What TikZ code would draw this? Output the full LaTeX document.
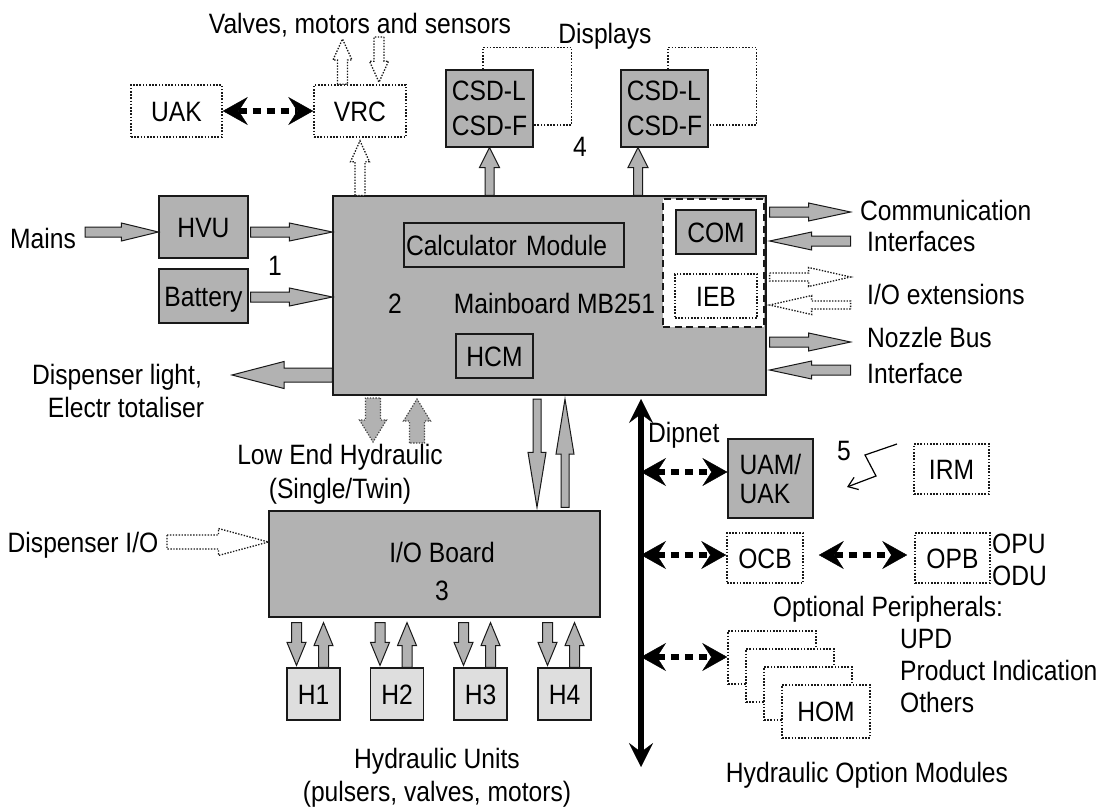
\documentclass[tikz,border=0pt]{standalone}
\usepackage{fontspec}
\setmainfont{Liberation Sans}[FakeStretch=0.88]
\usetikzlibrary{arrows.meta,calc}

\definecolor{boxgray}{RGB}{178,178,178}
\definecolor{hgray}{RGB}{222,222,222}
\definecolor{edge}{RGB}{25,25,25}

% Block arrow from #2 to #3: shaft half width #4, head half width #5, head length #6
\newcommand\fatarrow[6][]{%
  \coordinate (fahead) at ($(#3)!#6!(#2)$);
  \path[fatarrow,#1] ($(#2)!#4!90:(#3)$) -- ($(fahead)!#4!90:(#3)$)
    -- ($(fahead)!#5!90:(#3)$) -- (#3) -- ($(fahead)!#5!-90:(#3)$)
    -- ($(fahead)!#4!-90:(#3)$) -- ($(#2)!#4!-90:(#3)$) -- cycle;}

\begin{document}
\begin{tikzpicture}[x=1pt,y=1pt,
  every node/.style={font=\fontsize{28pt}{33pt}\selectfont, inner sep=0pt},
  solidbox/.style={draw=edge, line width=1.2pt, fill=boxgray, text height=20pt, text depth=0pt},
  lightbox/.style={solidbox, fill=hgray},
  dotbox/.style={draw=edge, line width=1.6pt, dash pattern=on 1.6pt off 1.6pt, fill=white, text height=20pt, text depth=0pt},
  framebox/.style={draw=edge, line width=1.2pt, text height=20pt, text depth=0pt},
  lbl/.style={anchor=base},
  lbll/.style={anchor=base west},
  fatarrow/.style={draw=edge, line width=1pt, fill=boxgray, line join=miter},
  hollow/.style={fill=white, line width=1.3pt, dash pattern=on 1.4pt off 1.5pt},
  ghost/.style={draw=gray!55!black, line width=1.2pt, dash pattern=on 1.3pt off 1.5pt},
  busarrow/.style={line width=6pt, dash pattern=on 8pt off 6pt,
    >={Stealth[length=25pt,width=28pt,inset=9pt,line width=0.4pt]}, <->},
  dotline/.style={draw=edge, line width=1.6pt, dash pattern=on 1.6pt off 1.6pt},
]
\fill[white] (0,0) rectangle (1114,-809);
\useasboundingbox (0,0) rectangle (1114,-809);

% ---------- mainboard ----------
\node[solidbox, minimum width=433pt, minimum height=199pt] (mb) at (549.5,-295.5) {};
\node[framebox, minimum width=220pt, minimum height=44pt, text width=216pt, align=left] (calc) at (514,-245) {Calculator Module};
\node[framebox, minimum width=77pt, minimum height=44pt] (hcm) at (494.5,-356) {HCM};
\node[lbl] (mbtxt) at (554.5,-313) {Mainboard MB251};
\node[lbl] (n2) at (395,-313) {2};
\node[draw=edge, line width=2.5pt, dash pattern=on 7pt off 4.5pt, fill=white,
      minimum width=101pt, minimum height=128pt] (ext) at (713.5,-263) {};
\node[solidbox, minimum width=80pt, minimum height=44pt] (com) at (716,-232) {COM};
\node[dotbox, minimum width=82pt, minimum height=44pt] (ieb) at (716,-296) {IEB};

% ---------- top row ----------
\node[dotbox, minimum width=91pt, minimum height=52pt] (uak) at (176.5,-111) {UAK};
\node[dotbox, minimum width=92pt, minimum height=52pt] (vrc) at (360,-111) {VRC};
\node[lbl] (vms) at (360,-33) {Valves, motors and sensors};
\node[draw=edge, line width=1.2pt, fill=boxgray, minimum width=87pt, minimum height=77pt,
      align=left, font=\fontsize{28pt}{35pt}\selectfont] (csd1) at (489.5,-108.5) {CSD-L\\CSD-F};
\node[draw=edge, line width=1.2pt, fill=boxgray, minimum width=87pt, minimum height=77pt,
      align=left, font=\fontsize{28pt}{35pt}\selectfont] (csd2) at (664.5,-108.5) {CSD-L\\CSD-F};
\node[lbl] (disp) at (605,-43) {Displays};
\node[lbl] (n4) at (580,-156) {4};
\draw[dotline] ([xshift=-6.5pt]csd1.north) |- ([xshift=38pt,yshift=22pt]csd1.north east) |- ([yshift=-16.5pt]csd1.east);
\draw[dotline] ([xshift=3.5pt]csd2.north) |- ([xshift=48pt,yshift=22pt]csd2.north east) |- ([yshift=-16.5pt]csd2.east);

% ---------- power ----------
\node[solidbox, minimum width=89pt, minimum height=62pt] (hvu) at (203.5,-227) {HVU};
\node[solidbox, minimum width=89pt, minimum height=54pt] (battery) at (203.5,-296) {Battery};
\node[lbl] (mains) at (43,-248) {Mains};
\node[lbl] (n1) at (275,-275) {1};
\node[lbl] (dl1) at (117,-384) {Dispenser light,};
\node[lbl] (dl2) at (126,-417) {Electr totaliser};

% ---------- I/O board and hydraulics ----------
\node[solidbox, minimum width=331pt, minimum height=106pt] (io) at (434.5,-564) {};
\node[lbl] (iotxt) at (442,-562) {I/O Board};
\node[lbl] (n3) at (442,-600) {3};
\node[lightbox, minimum width=53pt, minimum height=52pt] (h1) at (313.5,-694) {H1};
\node[lightbox, minimum width=53pt, minimum height=52pt] (h2) at (397,-694) {H2};
\node[lightbox, minimum width=53pt, minimum height=52pt] (h3) at (480.5,-694) {H3};
\node[lightbox, minimum width=53pt, minimum height=52pt] (h4) at (564.5,-694) {H4};
\node[lbl] (hu1) at (437,-768) {Hydraulic Units};
\node[lbl] (hu2) at (437,-801) {(pulsers, valves, motors)};
\node[lbl] (le1) at (340,-464) {Low End Hydraulic};
\node[lbl] (le2) at (340,-498) {(Single/Twin)};
\node[lbl] (dio) at (83,-552) {Dispenser I/O};

% ---------- right-hand interfaces ----------
\node[lbll] (t1) at (860,-220) {Communication};
\node[lbll] (t2) at (867,-251) {Interfaces};
\node[lbll] (t3) at (867,-304) {I/O extensions};
\node[lbll] (t4) at (867,-347) {Nozzle Bus};
\node[lbll] (t5) at (867,-383) {Interface};

% ---------- Dipnet peripherals ----------
\node[draw=edge, line width=1.2pt, fill=boxgray, minimum width=85pt, minimum height=79pt,
      align=left, font=\fontsize{28pt}{29pt}\selectfont] (uam) at (770.5,-478.5) {UAM/\\UAK};
\node[dotbox, minimum width=75pt, minimum height=50pt] (irm) at (951.5,-469) {IRM};
\node[dotbox, minimum width=76pt, minimum height=50pt] (ocb) at (765,-558) {OCB};
\node[dotbox, minimum width=75pt, minimum height=50pt] (opb) at (952.5,-558) {OPB};
\node[dotbox, minimum width=88pt, minimum height=53pt] (hom1) at (772,-657.5) {};
\node[dotbox, minimum width=88pt, minimum height=53pt] (hom2) at (790,-675.5) {};
\node[dotbox, minimum width=88pt, minimum height=53pt] (hom3) at (808,-693.5) {};
\node[dotbox, minimum width=88pt, minimum height=53pt] (hom4) at (826,-711.5) {HOM};
\node[lbll] (dipnet) at (648,-442) {Dipnet};
\node[lbl] (n5) at (844,-460) {5};
\node[lbll] (opu) at (992,-553) {OPU};
\node[lbll] (odu) at (992,-585) {ODU};
\node[lbl] (optp) at (888,-616) {Optional Peripherals:};
\node[lbll] (upd) at (900,-648) {UPD};
\node[lbll] (prod) at (900,-680) {Product Indication};
\node[lbll] (oth) at (900,-712) {Others};
\node[lbl] (homtxt) at (867,-782) {Hydraulic Option Modules};

% ---------- block arrows ----------
% power feed
\coordinate (mainsA) at (85,-232);
\coordinate (mainsB) at (hvu.west |- mainsA);
\fatarrow{mainsA}{mainsB}{5pt}{9pt}{37pt}
\coordinate (hvuA) at ([xshift=2pt]hvu.east |- mainsA);
\coordinate (hvuB) at (mb.west |- mainsA);
\fatarrow{hvuA}{hvuB}{5pt}{9pt}{43pt}
\coordinate (batA) at ([xshift=2pt,yshift=-1pt]battery.east);
\coordinate (batB) at (mb.west |- batA);
\fatarrow{batA}{batB}{5pt}{9pt}{43pt}
% dispenser light output
\coordinate (dlA) at ([yshift=-79.5pt]mb.west);
\coordinate (dlB) at (232,-375);
\fatarrow{dlA}{dlB}{7pt}{13.5pt}{52pt}

% valve controller links
\coordinate (vrcUpA) at ([xshift=-17.5pt]vrc.north);
\coordinate (vrcUpB) at (342.5,-39);
\fatarrow[hollow]{vrcUpA}{vrcUpB}{5pt}{9.5pt}{21pt}
\coordinate (vrcDnA) at (379,-37);
\coordinate (vrcDnB) at ([xshift=19pt,yshift=2pt]vrc.north);
\fatarrow[hollow]{vrcDnA}{vrcDnB}{5pt}{9.5pt}{21pt}
\coordinate (mbVrcA) at (vrc.south |- mb.north);
\coordinate (mbVrcB) at ([yshift=-3pt]vrc.south);
\fatarrow[hollow]{mbVrcA}{mbVrcB}{5pt}{9.5pt}{21pt}

% display links
\coordinate (csd1A) at (csd1.south |- mb.north);
\fatarrow{csd1A}{csd1.south}{4.5pt}{10pt}{20pt}
\coordinate (csd2B) at ([xshift=-26.5pt]csd2.south);
\coordinate (csd2A) at (csd2B |- mb.north);
\fatarrow{csd2A}{csd2B}{4.5pt}{10pt}{20pt}

% right-hand interfaces
\coordinate (rx) at ([xshift=3pt]mb.east);
\coordinate (tx) at ([xshift=84pt]mb.east);
\coordinate (c1a) at (rx |- 0,-212); \coordinate (c1b) at (tx |- 0,-212);
\fatarrow{c1a}{c1b}{5pt}{9pt}{42pt}
\coordinate (c2a) at (tx |- 0,-241); \coordinate (c2b) at (rx |- 0,-241);
\fatarrow{c2a}{c2b}{5pt}{9pt}{42pt}
\coordinate (c3a) at (rx |- 0,-277); \coordinate (c3b) at (tx |- 0,-277);
\fatarrow[hollow]{c3a}{c3b}{4pt}{9.5pt}{42pt}
\coordinate (c4a) at (tx |- 0,-305); \coordinate (c4b) at (rx |- 0,-305);
\fatarrow[hollow]{c4a}{c4b}{4pt}{9.5pt}{42pt}
\coordinate (c5a) at (rx |- 0,-342); \coordinate (c5b) at (tx |- 0,-342);
\fatarrow{c5a}{c5b}{5pt}{9pt}{42pt}
\coordinate (c6a) at (tx |- 0,-370); \coordinate (c6b) at (rx |- 0,-370);
\fatarrow{c6a}{c6b}{5pt}{9pt}{42pt}

% low end hydraulic
\coordinate (leDnA) at (373,-398); \coordinate (leDnB) at (373,-442);
\fatarrow[ghost]{leDnA}{leDnB}{7.5pt}{13.5pt}{22pt}
\coordinate (leUpA) at (417,-443); \coordinate (leUpB) at (417,-399);
\fatarrow[ghost]{leUpA}{leUpB}{7.5pt}{13.5pt}{22pt}

% mainboard <-> I/O board
\coordinate (mioDnA) at ([xshift=-12.5pt,yshift=-3.5pt]mb.south);
\coordinate (mioDnB) at ($(mioDnA |- io.north)+(0,3)$);
\fatarrow{mioDnA}{mioDnB}{4pt}{9pt}{55pt}
\coordinate (mioUpB) at ([xshift=15.5pt,yshift=-3.5pt]mb.south);
\coordinate (mioUpA) at ($(mioUpB |- io.north)+(0,3)$);
\fatarrow{mioUpA}{mioUpB}{4pt}{9pt}{55pt}

% dispenser I/O
\coordinate (dioA) at (167,-542);
\coordinate (dioB) at (io.west |- dioA);
\fatarrow[hollow]{dioA}{dioB}{7pt}{13.5pt}{50pt}

% I/O board <-> hydraulic units
\foreach \h in {h1,h2,h3,h4} {
  \coordinate (\h-da) at ($([xshift=-17pt]\h.north |- io.south)+(0,-5)$);
  \coordinate (\h-db) at ([xshift=-17pt,yshift=2pt]\h.north);
  \fatarrow{\h-da}{\h-db}{5pt}{9.5pt}{23pt}
  \coordinate (\h-ua) at ([xshift=10pt]\h.north);
  \coordinate (\h-ub) at ($([xshift=10pt]\h.north |- io.south)+(0,-5)$);
  \fatarrow{\h-ua}{\h-ub}{5pt}{9.5pt}{23pt}
}

% ---------- bus connections ----------
\draw[busarrow] (uak.east) -- (vrc.west);
\coordinate (dtop) at (641,-399);
\coordinate (dbot) at (641,-767);
\draw[line width=6pt, <->, >={Stealth[length=24pt,width=24pt,inset=9pt,line width=0.4pt]}] (dtop) -- (dbot);
\coordinate (bus1) at (641,-472);
\draw[busarrow] (bus1) -- (bus1 -| uam.west);
\coordinate (bus2) at (641,-555);
\draw[busarrow] (bus2) -- (bus2 -| ocb.west);
\draw[busarrow, shorten <=15pt, shorten >=7pt] (ocb.east |- bus2) -- (opb.west |- bus2);
\coordinate (bus3) at (641,-657);
\draw[busarrow] (bus3) -- (bus3 -| hom1.west);

% infrared link
\coordinate (z1) at (897,-444);
\coordinate (z2) at (865,-455);
\coordinate (z3) at (876,-476);
\coordinate (z4) at (847,-487);
\draw[line width=1.2pt, -{Straight Barb[length=9pt,width=13pt]}] (z1) -- (z2) -- (z3) -- (z4);
\end{tikzpicture}
\end{document}
